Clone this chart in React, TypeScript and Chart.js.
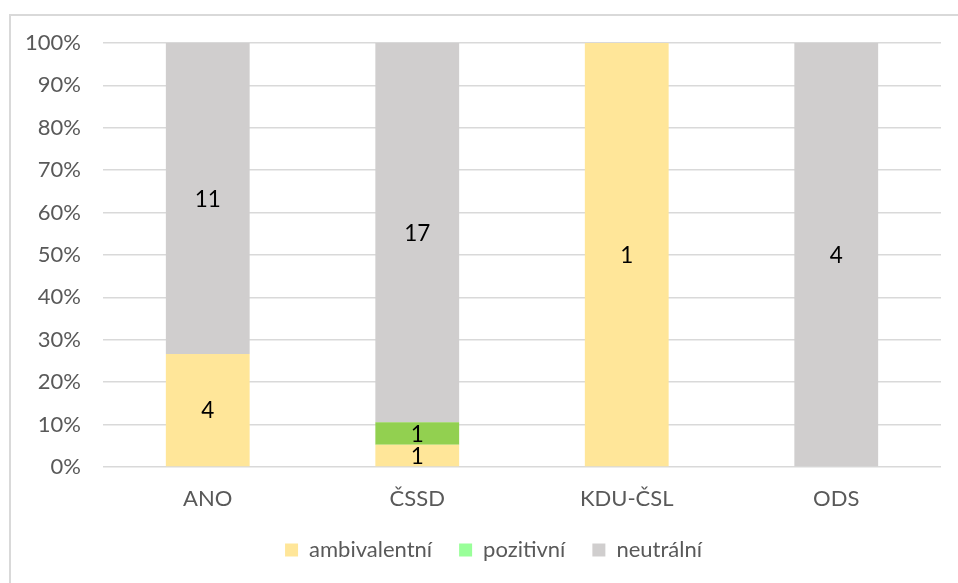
import React, { useEffect, useRef } from "react";
import { Chart, registerables } from "chart.js";

Chart.register(...registerables);

const categories = ["ANO", "ČSSD", "KDU-ČSL", "ODS"];
const seriesNames = ["ambivalentní", "pozitivní", "neutrální"];
const ambivalentni = [4, 1, 1, 0];
const pozitivni = [0, 1, 0, 0];
const neutralni = [11, 17, 0, 4];
const barColors = ["#FFE699", "#92D050", "#D0CECE"];
const legendColors = ["#FFE699", "#99FF99", "#D0CECE"];
const yTicks = [0, 10, 20, 30, 40, 50, 60, 70, 80, 90, 100];

const FONT = "Lato, 'Open Sans', sans-serif";

export default function App() {
  const ref = useRef<HTMLCanvasElement | null>(null);

  useEffect(() => {
    const counts = [ambivalentni, pozitivni, neutralni];
    const totals = categories.map((_, j) => counts.reduce((s, arr) => s + arr[j], 0));
    const datasets = counts.map((arr, i) => ({
      label: seriesNames[i],
      data: arr.map((v, j) => (totals[j] ? (v / totals[j]) * 100 : 0)),
      backgroundColor: barColors[i],
      borderWidth: 0,
      barPercentage: 0.4,
      categoryPercentage: 1,
    }));

    const labelPlugin = {
      id: "segLabels",
      afterLayout(chart: any) {
        if (chart.legend) {
          chart.legend.left += 46;
        }
      },
      afterDatasetsDraw(chart: any) {
        const ctx = chart.ctx;
        ctx.save();
        ctx.font = `22.5px ${FONT}`;
        ctx.fillStyle = "#000000";
        ctx.textAlign = "center";
        ctx.textBaseline = "middle";
        counts.forEach((arr, i) => {
          const meta = chart.getDatasetMeta(i);
          meta.data.forEach((bar: any, j: number) => {
            if (arr[j] > 0) {
              ctx.fillText(String(arr[j]), bar.x, (bar.y + bar.base) / 2 + 1);
            }
          });
        });
        ctx.restore();
      },
    };

    const chart = new Chart(ref.current as HTMLCanvasElement, {
      type: "bar",
      data: { labels: categories, datasets },
      plugins: [labelPlugin],
      options: {
        animation: false,
        responsive: false,
        layout: { padding: { left: 0, right: 17, top: 43, bottom: 12 } },
        scales: {
          x: {
            stacked: true,
            grid: { display: false, drawTicks: false },
            border: { display: false },
            ticks: { color: "#595959", font: { family: FONT, size: 22 }, padding: 19 },
            afterFit(scale: any) {
              scale.height = 45;
            },
          },
          y: {
            stacked: true,
            min: 0,
            max: 100,
            afterBuildTicks(scale: any) {
              scale.ticks = yTicks.map((v) => ({ value: v }));
            },
            grid: { color: "#D9D9D9", lineWidth: 1.5, drawTicks: false },
            border: { display: false },
            ticks: {
              color: "#595959",
              font: { family: FONT, size: 22 },
              padding: 22,
              callback: (v: any) => v + "%",
            },
            afterFit(scale: any) {
              scale.width = 103;
            },
          },
        },
        plugins: {
          tooltip: { enabled: false },
          legend: {
            position: "bottom",
            labels: {
              color: "#595959",
              font: { family: FONT, size: 22 },
              boxWidth: 13,
              boxHeight: 13,
              padding: 27,
              generateLabels: (chart: any) =>
                chart.data.datasets.map((ds: any, i: number) => ({
                  text: ds.label,
                  fillStyle: legendColors[i],
                  strokeStyle: "rgba(0,0,0,0)",
                  lineWidth: 0,
                  fontColor: "#595959",
                  hidden: false,
                  datasetIndex: i,
                })),
            },
          },
        },
      },
    } as any);
    return () => chart.destroy();
  }, []);

  return (
    <div style={{ position: "absolute", left: 0, top: 0, width: 958, height: 583, background: "#fff", overflow: "hidden" }}>
      <div
        style={{
          position: "absolute",
          left: 9,
          top: 14,
          width: 980,
          height: 600,
          borderLeft: "2px solid #D9D9D9",
          borderTop: "2px solid #D9D9D9",
        }}
      />
      <canvas ref={ref} width={958} height={583} style={{ position: "absolute", left: 0, top: 0 }} />
    </div>
  );
}
